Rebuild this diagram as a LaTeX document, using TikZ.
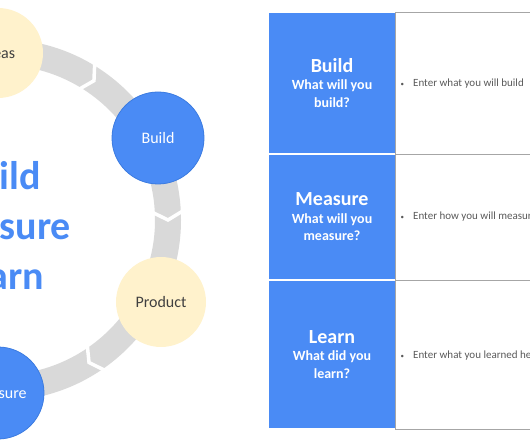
\documentclass[tikz,border=0pt]{standalone}
\usepackage{fontspec}
\setmainfont{Carlito}
\usepackage{xcolor}
\usetikzlibrary{positioning}
\definecolor{leanblue}{HTML}{4A8BF5}
\definecolor{leanedge}{HTML}{3B7BE0}
\definecolor{leanyellow}{HTML}{FFF2CC}
\definecolor{ringgray}{HTML}{D9D9D9}
\definecolor{notegray}{HTML}{595959}
\definecolor{gridgray}{HTML}{A6A6A6}

\begin{document}
\begin{tikzpicture}[x=1pt,y=1pt,
  bluestep/.style={circle,minimum size=92pt,inner sep=0pt,fill=leanblue,draw=leanedge,line width=0.8pt,text=white,font=\fontsize{16}{19}\selectfont},
  yellowstep/.style={circle,minimum size=90pt,inner sep=0pt,fill=leanyellow,text=black!75,font=\fontsize{16}{19}\selectfont},
  bigword/.style={anchor=base,text=leanblue,font=\bfseries\fontsize{40}{48}\selectfont},
  notch/.style={white,line width=3.5pt,line join=miter},
  question/.style={rectangle,minimum width=128pt,inner sep=0pt,fill=leanblue,draw=white,line width=1.2pt,text=white,align=center,font=\bfseries\fontsize{14}{17.5}\selectfont},
  answer/.style={rectangle,minimum width=204pt,inner sep=0pt,draw=gridgray,line width=0.8pt},
  note/.style={anchor=base west,inner sep=0pt,text=notegray,font=\fontsize{11}{13}\selectfont}]
\useasboundingbox (0,0) rectangle (530,442);
% ring and its notches
\draw[ringgray,line width=26pt] (0,222) circle (168);
\begin{scope}[shift={(0,222)}]
\draw[notch] (59:184) -- (56:168) -- (59:152);
   \draw[notch] (3:184) -- (0:168) -- (3:152);
      \draw[notch] (-55:184) -- (-58:168) -- (-55:152);
\end{scope}
% steps on the ring
\node[yellowstep] (ideas) at (-2,389){Ideas};
\node[bluestep] (build) at (158,304){Build};
\node[yellowstep] (product) at (161,140){Product};
\node[bluestep] (measure) at (-2,49){Measure};
% big words
\node[bigword] (wbuild) at (-2,252){Build};
\node[bigword] (wmeasure) at (-2,202){Measure};
\node[bigword] (wlearn) at (-2,152){Learn};
% table
\node[question,minimum height=142pt] (qbuild) at (332,359){{\fontsize{20}{17.5}\selectfont Build}\\What will you\\build?};
\node[question,minimum height=126pt] (qmeasure) at (332,225){{\fontsize{20}{17.5}\selectfont Measure}\\What will you\\measure?};
\node[question,minimum height=149pt] (qlearn) at (332,87.5){{\fontsize{20}{17.5}\selectfont Learn}\\What did you\\learn?};
\node[answer,minimum height=142pt,right=-1.4pt of qbuild] (abuild){};
\node[answer,minimum height=126pt,right=-1.4pt of qmeasure] (ameasure){};
\node[answer,minimum height=149pt,right=-1.4pt of qlearn] (alearn){};
\node[note] (nbuild) at (400.5,355){\makebox[12.5pt][l]{\scriptsize\textbullet}Enter what you will build};
\node[note] (nmeasure) at (400.5,222){\makebox[12.5pt][l]{\scriptsize\textbullet}Enter how you will measure};
\node[note] (nlearn) at (400.5,84){\makebox[12.5pt][l]{\scriptsize\textbullet}Enter what you learned here};
\end{tikzpicture}
\end{document}
